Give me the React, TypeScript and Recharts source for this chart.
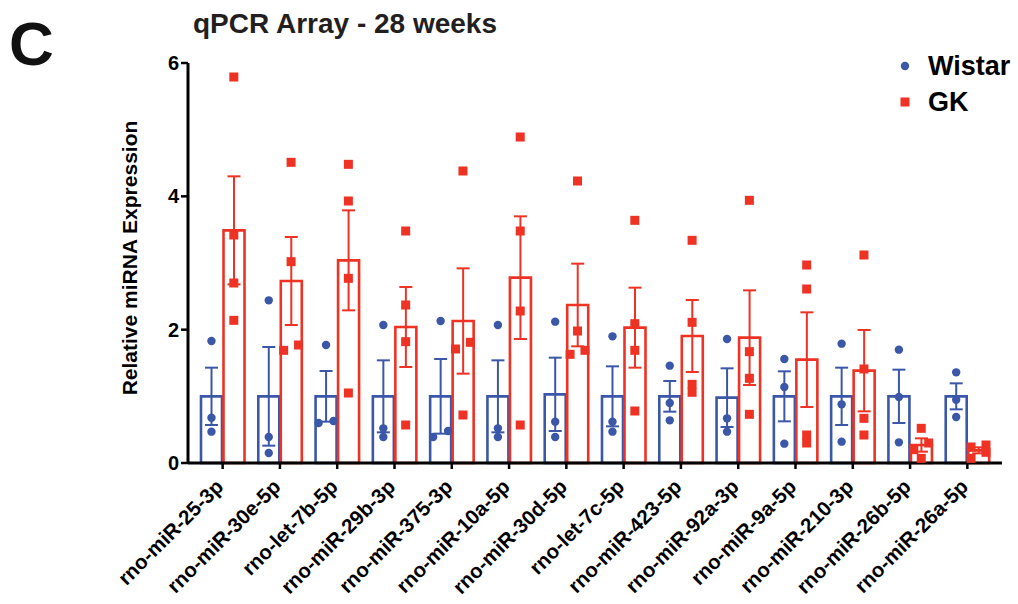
import { Bar, ComposedChart, ErrorBar, Scatter, XAxis, YAxis } from "recharts";

const BLUE = "#3B57A7";
const RED = "#EE3224";
const FONT = "'Liberation Sans', Arial, Helvetica, sans-serif";

const mirnas = [
  "rno-miR-25-3p",
  "rno-miR-30e-5p",
  "rno-let-7b-5p",
  "rno-miR-29b-3p",
  "rno-miR-375-3p",
  "rno-miR-10a-5p",
  "rno-miR-30d-5p",
  "rno-let-7c-5p",
  "rno-miR-423-5p",
  "rno-miR-92a-3p",
  "rno-miR-9a-5p",
  "rno-miR-210-3p",
  "rno-miR-26b-5p",
  "rno-miR-26a-5p",
];

const wistarMean = [1.0, 1.0, 1.0, 1.0, 1.0, 1.0, 1.03, 1.0, 1.0, 0.98, 1.0, 1.0, 1.0, 1.0];
const wistarSem = [0.43, 0.74, 0.38, 0.54, 0.56, 0.54, 0.55, 0.45, 0.23, 0.44, 0.375, 0.43, 0.4, 0.195];
const gkMean = [3.49, 2.73, 3.04, 2.04, 2.13, 2.78, 2.37, 2.03, 1.905, 1.88, 1.55, 1.385, 0.27, 0.19];
const gkSem = [0.81, 0.66, 0.75, 0.6, 0.79, 0.92, 0.62, 0.6, 0.54, 0.71, 0.71, 0.61, 0.1, 0.045];

const wistarPoints = [
  [1.83, 0.68, 0.47],
  [2.44, 0.39, 0.15],
  [1.77, 0.6, 0.63],
  [2.07, 0.52, 0.39],
  [2.13, 0.48, 0.39],
  [2.07, 0.52, 0.39],
  [2.12, 0.62, 0.39],
  [1.9, 0.62, 0.47],
  [1.46, 0.9, 0.64],
  [1.86, 0.67, 0.47],
  [1.56, 1.14, 0.29],
  [1.79, 0.88, 0.32],
  [1.7, 0.99, 0.31],
  [1.36, 0.95, 0.69],
];

const gkPoints = [
  [5.79, 3.42, 2.7, 2.14],
  [4.51, 3.02, 1.69, 1.77],
  [4.48, 3.93, 2.77, 1.05],
  [3.48, 2.37, 1.82, 0.57],
  [4.38, 1.81, 1.71, 0.72],
  [4.89, 3.48, 2.28, 0.57],
  [4.23, 1.98, 1.63, 1.69],
  [3.64, 2.09, 1.69, 0.78],
  [3.34, 2.11, 1.18, 1.06],
  [3.94, 1.67, 1.27, 0.73],
  [2.97, 2.61, 0.42, 0.3],
  [3.12, 1.41, 0.67, 0.42],
  [0.52, 0.3, 0.2, 0.07],
  [0.27, 0.24, 0.16, 0.07],
];

const yTicks = [0, 2, 4, 6];

// bar centre offset from category centre, and horizontal step for overlapping points (category units)
const GROUP_OFFSET = 0.195;
const STEP = 0.26;
const OVERLAP = 0.115;

function spread(values: number[]) {
  const order = values.map((_, i) => i).sort((a, b) => values[a] - values[b]);
  const offsets = values.map(() => 0);
  let run: number[] = [];
  const flush = () => {
    run.forEach((idx, k) => {
      offsets[idx] = (k - (run.length - 1) / 2) * STEP;
    });
    run = [];
  };
  order.forEach((idx) => {
    if (run.length && (values[idx] - values[run[run.length - 1]] >= OVERLAP || run.length >= 2)) flush();
    run.push(idx);
  });
  flush();
  return offsets;
}

function buildPoints(groups: number[][], shift: number) {
  return groups.flatMap((values, i) => {
    const offsets = spread(values);
    return values.map((v, k) => ({ x: i + 0.5 + shift + offsets[k], y: v }));
  });
}

const chartData = mirnas.map((name, i) => ({
  name,
  wistar: wistarMean[i],
  wistarSem: wistarSem[i],
  gk: gkMean[i],
  gkSem: gkSem[i],
}));

const wistarDots = buildPoints(wistarPoints, -GROUP_OFFSET);
const gkDots = buildPoints(gkPoints, GROUP_OFFSET);

function CategoryTick({ x, y, payload }: any) {
  const tx = x + 2;
  const ty = y + 17;
  return (
    <text
      x={tx}
      y={ty}
      transform={`rotate(-45 ${tx} ${ty})`}
      textAnchor="end"
      fontFamily={FONT}
      fontWeight={700}
      fontSize={20.5}
      fill="#000"
    >
      {payload.value}
    </text>
  );
}

const Dot = ({ cx, cy }: any) => <circle cx={cx} cy={cy} r={4.2} fill={BLUE} />;
const Square = ({ cx, cy }: any) => <rect x={cx - 4.5} y={cy - 4.5} width={9} height={9} fill={RED} />;

export default function App() {
  return (
    <div style={{ position: "absolute", left: 0, top: 0, width: 1018, height: 604, background: "#fff" }}>
      <ComposedChart
        width={1018}
        height={604}
        data={chartData}
        margin={{ top: 63, right: 16, bottom: 0, left: 0 }}
        barCategoryGap={7}
        barGap={1.5}
      >
        <XAxis
          dataKey="name"
          type="category"
          interval={0}
          height={141}
          padding={{ left: 6, right: 6 }}
          axisLine={{ stroke: "#000", strokeWidth: 3 }}
          tickLine={{ stroke: "#000", strokeWidth: 2.5 }}
          tickSize={6}
          tick={<CategoryTick />}
        />
        <XAxis xAxisId="pts" dataKey="x" type="number" domain={[0, 14]} hide padding={{ left: 6, right: 6 }} />
        <YAxis
          width={188}
          domain={[0, 6]}
          ticks={yTicks}
          interval={0}
          axisLine={{ stroke: "#000", strokeWidth: 3 }}
          tickLine={{ stroke: "#000", strokeWidth: 2.5 }}
          tickSize={7}
          tickMargin={2}
          tick={{ fontSize: 20, fontWeight: 700, fill: "#000", fontFamily: FONT }}
        />
        <Bar dataKey="wistar" fill="none" stroke={BLUE} strokeWidth={2.6} isAnimationActive={false}>
          <ErrorBar dataKey="wistarSem" direction="y" width={6.5} stroke={BLUE} strokeWidth={2} isAnimationActive={false} />
        </Bar>
        <Bar dataKey="gk" fill="none" stroke={RED} strokeWidth={2.6} isAnimationActive={false}>
          <ErrorBar dataKey="gkSem" direction="y" width={6.5} stroke={RED} strokeWidth={2} isAnimationActive={false} />
        </Bar>
        <Scatter xAxisId="pts" data={wistarDots} dataKey="y" shape={<Dot />} isAnimationActive={false} />
        <Scatter xAxisId="pts" data={gkDots} dataKey="y" shape={<Square />} isAnimationActive={false} />
      </ComposedChart>
      <svg
        width={1018}
        height={604}
        style={{ position: "absolute", left: 0, top: 0, pointerEvents: "none" }}
        fontFamily={FONT}
        fontWeight={700}
      >
        <text x={9} y={65} fontSize={62} fill="#111">C</text>
        <text x={193} y={33} fontSize={28} fill="#231F20">qPCR Array - 28 weeks</text>
        <text x={137} y={258} fontSize={21} fill="#000" textAnchor="middle" transform="rotate(-90 137 258)">
          Relative miRNA Expression
        </text>
        <circle cx={905} cy={66} r={4.2} fill={BLUE} />
        <text x={928} y={75} fontSize={27} fill="#000">Wistar</text>
        <rect x={900.5} y={97.5} width={9} height={9} fill={RED} />
        <text x={928} y={111} fontSize={27} fill="#000">GK</text>
      </svg>
    </div>
  );
}
